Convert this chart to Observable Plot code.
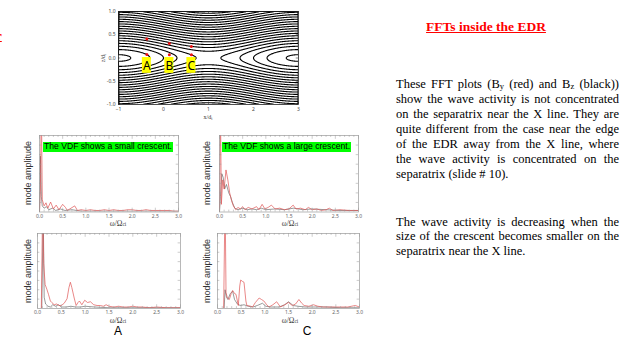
<!DOCTYPE html>
<html>
<head>
<meta charset="utf-8">
<script src="https://cdn.jsdelivr.net/npm/d3@7"></script>
<script src="https://cdn.jsdelivr.net/npm/@observablehq/plot@0.6"></script>
<style>
  body { margin: 0; background: #fff; }
  #slide { position: relative; width: 633px; height: 339px; overflow: hidden; background: #fff;
           font-family: "Liberation Sans", Arial, sans-serif; }
  .abs { position: absolute; white-space: nowrap; }
  .ctr { transform: translate(-50%, -50%); }
  .rot { transform: translate(-50%, -50%) rotate(-90deg); }
  .serif { font-family: "Liberation Serif", "Times New Roman", serif; }
  .line { position: absolute; left: 396px; width: 223px; font-family: "Liberation Serif", "Times New Roman", serif;
          font-size: 12.5px; line-height: 15px; text-align: justify; text-align-last: justify; white-space: normal; }
  .line.last { text-align-last: left; }
  sub { font-size: 68%; vertical-align: -0.15em; line-height: 0; }
  .green { background: #00ff00; color: #000; font-size: 8.6px; line-height: 9.5px; padding: 0 1px; }
</style>
</head>
<body>
<div id="slide"></div>
<script>
// ---------------- data ----------------
// contour panel: magnetic flux model (Harris sheet + X-line perturbation)
const xLine = 1.0;            // x/di of the X line
const sheetHalfWidth = 0.25;  // current sheet half thickness (di)
const perturbation = 0.44;    // X-line perturbation amplitude
const fluxLevels = [-0.4, -0.2, 0, 0.2, 0.4, 0.6, 0.8, 1.0, 1.2, 1.4, 1.6, 1.8, 2.0, 2.2, 2.4, 2.6, 2.8, 3.0, 3.2, 3.4, 3.6];
const contourXTicks = [-1, 0, 1, 2, 3];
const contourYTicks = [-1, -0.5, 0, 0.5, 1];
const probeX = [-0.37, -0.37, 0.13, 0.13, 0.62, 0.62];
const probeZ = [0.41, 0.075, 0.31, 0.07, 0.25, 0.07];
const probeNames = ["A", "B", "C"];
const probeLabelX = [-0.37, 0.13, 0.62];
const probeLabelZ = [-0.16, -0.16, -0.16];

// FFT panels: [omega/Omega_ci, mode amplitude]
const freqTicks = [0, 0.5, 1, 1.5, 2, 2.5, 3];
const freqMinorTicks = [0.1, 0.2, 0.3, 0.4, 0.6, 0.7, 0.8, 0.9, 1.1, 1.2, 1.3, 1.4, 1.6, 1.7, 1.8, 1.9, 2.1, 2.2, 2.3, 2.4, 2.6, 2.7, 2.8, 2.9];
const ampTicks = [0.125, 0.25, 0.375, 0.5, 0.625, 0.75, 0.875];

// small crescent (top left)
const smallByRed = [[0,0],[0.02,0.3],[0.04,1.5],[0.06,0.16],[0.1,0.08],[0.14,0.12],[0.18,0.05],[0.24,0.13],[0.3,0.04],[0.36,0.09],[0.42,0.03],[0.5,0.1],[0.56,0.06],[0.6,0.02],[0.68,0.05],[0.76,0.08],[0.82,0.02],[0.9,0.03],[1.0,0.02],[1.1,0.03],[1.2,0.02],[1.3,0.02],[1.4,0.03],[1.5,0.02],[1.6,0.03],[1.7,0.02],[1.8,0.02],[1.9,0.03],[2.0,0.03],[2.1,0.02],[2.2,0.02],[2.3,0.03],[2.4,0.02],[2.5,0.02],[2.6,0.02],[2.7,0.02],[2.8,0.02],[2.9,0.01],[3.0,0.01]];
const smallBzBlack = [[0,0],[0.02,0.73],[0.04,0.2],[0.06,0.08],[0.1,0.05],[0.15,0.07],[0.2,0.03],[0.28,0.05],[0.35,0.02],[0.45,0.04],[0.55,0.02],[0.7,0.03],[0.9,0.01],[1.2,0.01],[1.5,0.01],[2.0,0.01],[2.5,0.01],[3.0,0.01]];
// large crescent (top right)
const largeByRed = [[0,0],[0.02,1.4],[0.04,0.1],[0.07,0.42],[0.1,0.3],[0.14,0.55],[0.18,0.42],[0.22,0.25],[0.26,0.15],[0.3,0.08],[0.35,0.03],[0.4,0.06],[0.45,0.04],[0.5,0.07],[0.55,0.03],[0.62,0.06],[0.7,0.04],[0.8,0.07],[0.85,0.03],[0.92,0.1],[0.98,0.04],[1.05,0.06],[1.12,0.09],[1.2,0.04],[1.3,0.05],[1.4,0.03],[1.5,0.04],[1.59,0.09],[1.65,0.04],[1.75,0.05],[1.85,0.03],[1.92,0.06],[2.0,0.03],[2.1,0.04],[2.2,0.02],[2.3,0.03],[2.37,0.05],[2.45,0.02],[2.6,0.03],[2.8,0.02],[3.0,0.02]];
const largeBzBlack = [[0,0],[0.02,0.2],[0.05,0.5],[0.08,0.45],[0.11,0.3],[0.15,0.36],[0.2,0.25],[0.24,0.2],[0.28,0.12],[0.33,0.05],[0.4,0.03],[0.5,0.05],[0.6,0.03],[0.7,0.04],[0.8,0.03],[0.9,0.05],[1.0,0.03],[1.2,0.04],[1.4,0.03],[1.6,0.05],[1.8,0.03],[2.0,0.04],[2.3,0.03],[2.6,0.02],[3.0,0.02]];
// point A (bottom left)
const aByRed = [[0,0],[0.08,0],[0.11,1.5],[0.13,0.6],[0.16,0.32],[0.2,0.25],[0.23,0.19],[0.27,0.1],[0.3,0.08],[0.35,0.05],[0.4,0.06],[0.45,0.04],[0.5,0.04],[0.56,0.07],[0.62,0.13],[0.66,0.28],[0.69,0.35],[0.72,0.28],[0.77,0.14],[0.81,0.04],[0.85,0.08],[0.88,0.1],[0.93,0.05],[0.99,0.11],[1.05,0.08],[1.11,0.09],[1.18,0.05],[1.25,0.04],[1.32,0.04],[1.38,0.03],[1.44,0.05],[1.5,0.03],[1.6,0.02],[1.7,0.03],[1.8,0.02],[1.9,0.02],[2.0,0.03],[2.1,0.02],[2.2,0.02],[2.35,0.01],[2.5,0.02],[2.7,0.01],[2.85,0.01],[3.0,0.01]];
const aBzBlack = [[0,0],[0.09,0],[0.12,1.3],[0.14,0.15],[0.17,0.06],[0.22,0.03],[0.27,0.02],[0.32,0.05],[0.38,0.03],[0.44,0.05],[0.5,0.02],[0.6,0.02],[0.7,0.03],[0.8,0.02],[0.9,0.02],[1.0,0.03],[1.2,0.02],[1.5,0.01],[2.0,0.01],[2.5,0.01],[3.0,0.01]];
// point C (bottom right)
const cByRed = [[0,0],[0.13,0],[0.16,1.5],[0.18,0.21],[0.21,0.14],[0.25,0.12],[0.29,0.2],[0.32,0.24],[0.36,0.2],[0.39,0.19],[0.44,0.04],[0.47,0.3],[0.49,0.38],[0.53,0.36],[0.56,0.35],[0.6,0.1],[0.62,0.04],[0.7,0.03],[0.74,0.02],[0.8,0.08],[0.88,0.14],[0.93,0.12],[0.98,0.1],[1.04,0.05],[1.09,0.02],[1.17,0.05],[1.25,0.09],[1.33,0.02],[1.42,0.05],[1.5,0.08],[1.58,0.04],[1.65,0.06],[1.72,0.12],[1.78,0.07],[1.83,0.04],[1.93,0.03],[2.03,0.05],[2.12,0.03],[2.24,0.02],[2.4,0.02],[2.6,0.02],[2.75,0.02],[2.91,0.04],[3.0,0.02]];
const cBzBlack = [[0,0],[0.14,0],[0.16,0.25],[0.19,0.15],[0.22,0.12],[0.27,0.2],[0.32,0.23],[0.36,0.12],[0.42,0.06],[0.48,0.04],[0.56,0.05],[0.65,0.03],[0.75,0.02],[0.84,0.04],[0.95,0.07],[1.02,0.03],[1.12,0.02],[1.3,0.02],[1.42,0.05],[1.5,0.09],[1.6,0.04],[1.7,0.03],[1.85,0.02],[2.0,0.02],[2.3,0.02],[2.6,0.01],[3.0,0.01]];

// ---------------- layout helpers ----------------
const slide = document.getElementById("slide");
function place(el, left, top) {
  el.style.position = "absolute";
  el.style.left = left + "px";
  el.style.top = top + "px";
  slide.appendChild(el);
}
function html(str, cls, left, top, extra) {
  const d = document.createElement("div");
  d.className = "abs " + (cls || "");
  d.innerHTML = str;
  if (extra) Object.assign(d.style, extra);
  place(d, left, top);
  return d;
}

// ---------------- contour panel ----------------
const psi = (x, z) => Math.log(Math.cosh(z / sheetHalfWidth)) + perturbation * Math.cos(Math.PI * (x - xLine) / 2);
const nx = 320, nz = 160;
const grid = new Float64Array(nx * nz);
for (let j = 0; j < nz; j++)
  for (let i = 0; i < nx; i++)
    grid[j * nx + i] = psi(-1 + (i + 0.5) * 4 / nx, -1 + (j + 0.5) * 2 / nz);
const fieldLines = [];
let ringId = 0;
for (const mp of d3.contours().size([nx, nz]).thresholds(fluxLevels)(grid)) {
  for (const poly of mp.coordinates) for (const ring of poly) {
    for (const [gx, gy] of ring) fieldLines.push({x: -1 + gx * 4 / nx, z: -1 + gy * 2 / nz, ring: ringId});
    ringId++;
  }
}
const probes = probeX.map((x, i) => ({x, z: probeZ[i]}));
const labels = probeNames.map((t, i) => ({t, x: probeLabelX[i], z: probeLabelZ[i]}));
{
  const mL = 23, mR = 12, mT = 11, mB = 21;
  const svg = Plot.plot({
    width: 180 + mL + mR, height: 93 + mT + mB,
    marginLeft: mL, marginRight: mR, marginTop: mT, marginBottom: mB,
    style: {background: "transparent", overflow: "visible"},
    x: {domain: [-1, 3], axis: null},
    y: {domain: [-1, 1], axis: null},
    marks: [
      Plot.line(fieldLines, {x: "x", y: "z", z: "ring", stroke: "#000", strokeWidth: 1.1, clip: true}),
      Plot.rect(labels, {x1: d => d.x - 0.1, x2: d => d.x + 0.1, y1: d => d.z - 0.17, y2: d => d.z + 0.17, fill: "#ffff00"}),
      Plot.text(labels, {x: "x", y: "z", text: "t", fontSize: 12, fill: "#000", dy: 1}),
      Plot.dot(probes, {x: "x", y: "z", r: 1.5, fill: "#ee1111", stroke: null}),
      Plot.ruleX(contourXTicks, {x: d => d, y1: -1, y2: -0.95, stroke: "#333", strokeWidth: 0.6}),
      Plot.ruleX(contourXTicks, {x: d => d, y1: 1, y2: 0.95, stroke: "#333", strokeWidth: 0.6}),
      Plot.ruleY(contourYTicks, {y: d => d, x1: -1, x2: -0.95, stroke: "#333", strokeWidth: 0.6}),
      Plot.ruleY(contourYTicks, {y: d => d, x1: 3, x2: 2.95, stroke: "#333", strokeWidth: 0.6}),
      Plot.frame({stroke: "#222", strokeWidth: 0.8}),
      Plot.axisX(contourXTicks, {tickSize: 0, tickPadding: 3, fontSize: 5, fill: "#444", label: null}),
      Plot.axisY(contourYTicks, {tickSize: 0, tickPadding: 3, fontSize: 5, fill: "#444", label: null, tickFormat: d => d.toFixed(1)})
    ]
  });
  place(svg, 118 - mL, 11 - mT);
}
html("x/d<sub>i</sub>", "ctr serif", 208, 117, {fontSize: "6px", color: "#333"});
html("z/d<sub>i</sub>", "rot serif", 103, 58, {fontSize: "6px", color: "#333"});

// ---------------- FFT panels ----------------
function fftPanel(p) {
  const mL = 16, mR = 12, mT = 4, mB = 12;
  const svg = Plot.plot({
    width: p.fx1 - p.fx0 + mL + mR, height: p.fy1 - p.fy0 + mT + mB,
    marginLeft: mL, marginRight: mR, marginTop: mT, marginBottom: mB,
    style: {background: "transparent", overflow: "visible"},
    x: {domain: [0, 3], axis: null},
    y: {domain: [0, 1], axis: null},
    marks: [
      Plot.line(p.black, {x: d => d[0], y: d => d[1], stroke: "#555", strokeWidth: 0.6, clip: true}),
      Plot.line(p.red, {x: d => d[0], y: d => d[1], stroke: "#e05555", strokeWidth: 0.7, clip: true}),
      Plot.ruleX(freqMinorTicks, {x: d => d, y1: 0, y2: 0.025, stroke: "#999", strokeWidth: 0.5}),
      Plot.ruleX(freqTicks, {x: d => d, y1: 0, y2: 0.05, stroke: "#999", strokeWidth: 0.5}),
      Plot.ruleX(freqMinorTicks, {x: d => d, y1: 1, y2: 0.975, stroke: "#999", strokeWidth: 0.5}),
      Plot.ruleX(freqTicks, {x: d => d, y1: 1, y2: 0.95, stroke: "#999", strokeWidth: 0.5}),
      Plot.ruleY(ampTicks, {y: d => d, x1: 0, x2: 0.05, stroke: "#999", strokeWidth: 0.5}),
      Plot.ruleY(ampTicks, {y: d => d, x1: 3, x2: 2.95, stroke: "#999", strokeWidth: 0.5}),
      Plot.frame({stroke: "#9a9a9a", strokeWidth: 0.7}),
      Plot.axisX(freqTicks, {tickSize: 0, tickPadding: 2, fontSize: 5, fill: "#666", label: null, tickFormat: d => d.toFixed(1)})
    ]
  });
  place(svg, p.fx0 - mL, p.fy0 - mT);
  html("mode amplitude", "rot", p.ylabX, (p.fy0 + p.fy1) / 2, {fontSize: "9px", color: "#333"});
  html("ω/Ω<sub>ci</sub>", "ctr serif", p.xlabX, p.fy1 + 11.5, {fontSize: "7.5px", color: "#333"});
}
fftPanel({fx0: 39, fx1: 178, fy0: 134.5, fy1: 211, red: smallByRed, black: smallBzBlack, ylabX: 28, xlabX: 118});
fftPanel({fx0: 219, fx1: 358, fy0: 134.5, fy1: 211, red: largeByRed, black: largeBzBlack, ylabX: 207, xlabX: 290});
fftPanel({fx0: 37, fx1: 180, fy0: 233, fy1: 308, red: aByRed, black: aBzBlack, ylabX: 28, xlabX: 118});
fftPanel({fx0: 217, fx1: 359, fy0: 233, fy1: 308, red: cByRed, black: cBzBlack, ylabX: 207, xlabX: 290});

html("The VDF shows a small crescent.", "green", 43, 142);
html("The VDF shows a large crescent.", "green", 222, 142);
html("A", "ctr", 118, 331, {fontSize: "12px"});
html("C", "ctr", 307, 331, {fontSize: "12px"});

// ---------------- slide text ----------------
html("r", "serif", -4, 28, {fontSize: "13px", fontWeight: "bold", color: "#f00", textDecoration: "underline"});
html("FFTs inside the EDR", "ctr serif", 486, 27, {fontSize: "13.5px", fontWeight: "bold", color: "#f00", textDecoration: "underline"});
const para1 = ["These FFT plots (B<sub>y</sub> (red) and B<sub>z</sub> (black))",
  "show the wave activity is not concentrated",
  "on the separatrix near the X line. They are",
  "quite different from the case near the edge",
  "of the EDR away from the X line, where",
  "the wave activity is concentrated on the",
  "separatrix (slide # 10)."];
const para2 = ["The wave activity is decreasing when the",
  "size of the crescent becomes smaller on the",
  "separatrix near the X line."];
para1.forEach((s, i) => {
  const d = document.createElement("div");
  d.className = "line" + (i === para1.length - 1 ? " last" : "");
  d.innerHTML = s; d.style.top = (77.2 + 15 * i) + "px"; slide.appendChild(d);
});
para2.forEach((s, i) => {
  const d = document.createElement("div");
  d.className = "line" + (i === para2.length - 1 ? " last" : "");
  d.innerHTML = s; d.style.top = (214.5 + 14.7 * i) + "px"; slide.appendChild(d);
});
</script>
</body>
</html>
